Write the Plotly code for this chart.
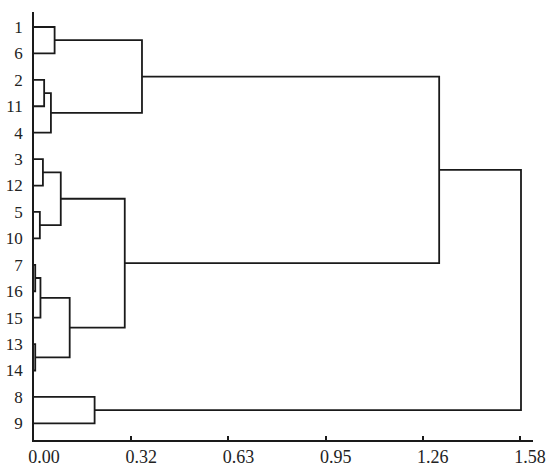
import plotly.graph_objects as go

# leaves in display order, top to bottom
leaf_labels = ["1", "6", "2", "11", "4", "3", "12", "5", "10", "7",
               "16", "15", "13", "14", "8", "9"]

# merges: node ids 0..15 are leaves, merge k creates node 16 + k
merge_left = [0, 2, 17, 16, 5, 7, 20, 9, 23, 12, 24, 22, 19, 14, 28]
merge_right = [1, 3, 4, 18, 6, 8, 21, 10, 11, 13, 25, 26, 27, 15, 29]
merge_height = [0.067, 0.033, 0.055, 0.351, 0.029, 0.019, 0.087, 0.004,
                0.021, 0.004, 0.116, 0.295, 1.317, 0.197, 1.583]

tick_vals = [0, 0.316, 0.632, 0.948, 1.264, 1.58]
tick_text = ["0.00", "0.32", "0.63", "0.95", "1.26", "1.58"]

# position and height of every node
pos = {i: float(i) for i in range(len(leaf_labels))}
height = {i: 0.0 for i in range(len(leaf_labels))}

xs, ys = [], []
for k, (a, b, h) in enumerate(zip(merge_left, merge_right, merge_height)):
    node = len(leaf_labels) + k
    xs += [height[a], h, h, height[b], None]
    ys += [pos[a], pos[a], pos[b], pos[b], None]
    pos[node] = (pos[a] + pos[b]) / 2
    height[node] = h

line_col = "#1a1a1a"
fig = go.Figure()
fig.add_trace(go.Scatter(x=xs, y=ys, mode="lines",
                         line=dict(color=line_col, width=1.8),
                         hoverinfo="skip", showlegend=False))

serif = "Liberation Serif, Times New Roman, serif"
xfont = dict(family=serif, size=18, color="#222222")
yfont = dict(family=serif, size=17, color="#222222")

fig.update_layout(
    width=550, height=467,
    margin=dict(l=34, r=17, t=12, b=27),
    paper_bgcolor="white", plot_bgcolor="white",
    xaxis=dict(range=[0, 1.622], tickvals=tick_vals, ticktext=tick_text,
               showline=True, linecolor=line_col, linewidth=1.8,
               ticks="inside", ticklen=4, tickwidth=1.8, tickcolor=line_col,
               showgrid=False, zeroline=False, automargin=False,
               ticklabelshift=10, ticklabelstandoff=-1, tickfont=xfont),
    yaxis=dict(range=[15.63, -0.567], tickvals=list(range(len(leaf_labels))),
               ticktext=leaf_labels,
               showline=True, linecolor=line_col, linewidth=1.8,
               ticks="", showgrid=False, zeroline=False, automargin=False,
               ticklabelstandoff=6, tickfont=yfont),
)

# drop the browser's default body margin so the figure fills the window
fig.write_html("out.html", config={"displayModeBar": False},
               post_script="document.body.style.margin='0';")
